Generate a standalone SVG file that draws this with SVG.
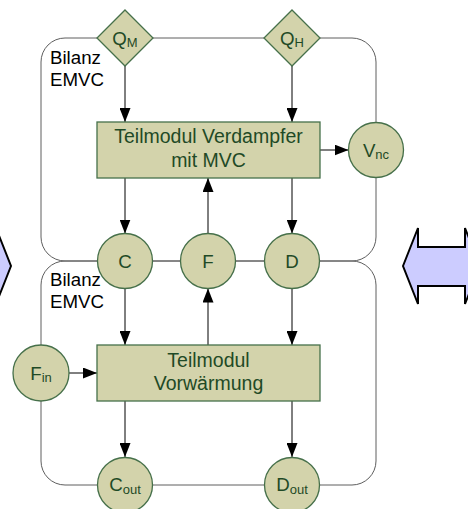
<svg xmlns="http://www.w3.org/2000/svg" width="468" height="509" viewBox="0 0 468 509">
<defs>
<style>
.bnd{fill:none;stroke:#5e5e5e;stroke-width:1}
.nd{fill:#d3d3ab;stroke:#46704a;stroke-width:1.3}
.lbl{font-family:"Liberation Sans",Arial,sans-serif;font-size:18.7px;fill:#1f4a26;text-anchor:middle}
.bx{font-size:19.5px}
.sub{font-size:13px}
.bl{font-family:"Liberation Sans",Arial,sans-serif;font-size:18.7px;fill:#000}
.cn{stroke:#000;stroke-width:1;fill:none;marker-end:url(#ah)}
.big{fill:#ccccff;stroke:#000;stroke-width:2;stroke-linejoin:miter}
</style>
<marker id="ah" markerUnits="userSpaceOnUse" markerWidth="14" markerHeight="11" refX="14" refY="5.5" orient="auto">
<path d="M0,0 L14,5.5 L0,11 z" fill="#000"/>
</marker>
</defs>
<rect width="468" height="509" fill="#fff"/>
<g id="big-arrows">
<polygon class="big" points="11,266 -4,304 -4,286 -60,286 -60,247 -4,247 -4,228"/>
<polygon class="big" points="403,266 418,228 418,247 465,247 465,228 480,266 465,304 465,286 418,286 418,304"/>
</g>
<g id="bilanz-top">
<rect class="bnd" x="41" y="38" width="335" height="223" rx="24" ry="24"/>
<text class="bl" x="50" y="64">Bilanz</text>
<text class="bl" x="50" y="85.7">EMVC</text>
</g>
<g id="bilanz-bottom">
<rect class="bnd" x="41" y="261" width="335" height="224" rx="24" ry="24"/>
<text class="bl" x="50" y="286">Bilanz</text>
<text class="bl" x="50" y="307.7">EMVC</text>
</g>
<g id="connectors">
<line class="cn" x1="125" y1="66" x2="125" y2="122"/>
<line class="cn" x1="292" y1="66" x2="292" y2="122"/>
<line class="cn" x1="320" y1="150" x2="348.5" y2="150"/>
<line class="cn" x1="125" y1="178" x2="125" y2="233.5"/>
<line class="cn" x1="208" y1="233.5" x2="208" y2="178"/>
<line class="cn" x1="292" y1="178" x2="292" y2="233.5"/>
<line class="cn" x1="125" y1="288.5" x2="125" y2="345"/>
<line class="cn" x1="208" y1="345" x2="208" y2="288.5"/>
<line class="cn" x1="292" y1="288.5" x2="292" y2="345"/>
<line class="cn" x1="69" y1="373" x2="97" y2="373"/>
<line class="cn" x1="125" y1="401" x2="125" y2="457"/>
<line class="cn" x1="292" y1="401" x2="292" y2="457"/>
</g>
<g id="QM">
<polygon class="nd" points="125,10 153,38 125,66 97,38"/>
<text class="lbl" x="125" y="44.5">Q<tspan class="sub" dy="2">M</tspan></text>
</g>
<g id="QH">
<polygon class="nd" points="292,10 320,38 292,66 264,38"/>
<text class="lbl" x="292" y="44.5">Q<tspan class="sub" dy="2">H</tspan></text>
</g>
<g id="verdampfer">
<rect class="nd" x="97" y="122" width="223" height="56"/>
<text class="lbl bx" x="208.5" y="143.3">Teilmodul Verdampfer</text>
<text class="lbl bx" x="208.5" y="166.5">mit MVC</text>
</g>
<g id="Vnc">
<circle class="nd" cx="376" cy="150" r="27.5"/>
<text class="lbl" x="376" y="156.5">V<tspan class="sub" dy="2">nc</tspan></text>
</g>
<g id="C">
<circle class="nd" cx="125" cy="261" r="27.5"/>
<text class="lbl" x="125" y="267.5">C</text>
</g>
<g id="F">
<circle class="nd" cx="208" cy="261" r="27.5"/>
<text class="lbl" x="208" y="267.5">F</text>
</g>
<g id="D">
<circle class="nd" cx="292" cy="261" r="27.5"/>
<text class="lbl" x="292" y="267.5">D</text>
</g>
<g id="vorwaermung">
<rect class="nd" x="97" y="345" width="223" height="56"/>
<text class="lbl bx" x="208.5" y="366.7">Teilmodul</text>
<text class="lbl bx" x="208.5" y="390">Vorwärmung</text>
</g>
<g id="Fin">
<circle class="nd" cx="41" cy="373" r="28"/>
<text class="lbl" x="41" y="379.5">F<tspan class="sub" dy="2">in</tspan></text>
</g>
<g id="Cout">
<circle class="nd" cx="125" cy="485" r="27.5"/>
<text class="lbl" x="125" y="491.3">C<tspan class="sub" dy="3">out</tspan></text>
</g>
<g id="Dout">
<circle class="nd" cx="292" cy="485" r="27.5"/>
<text class="lbl" x="292" y="491.3">D<tspan class="sub" dy="3">out</tspan></text>
</g>
</svg>
